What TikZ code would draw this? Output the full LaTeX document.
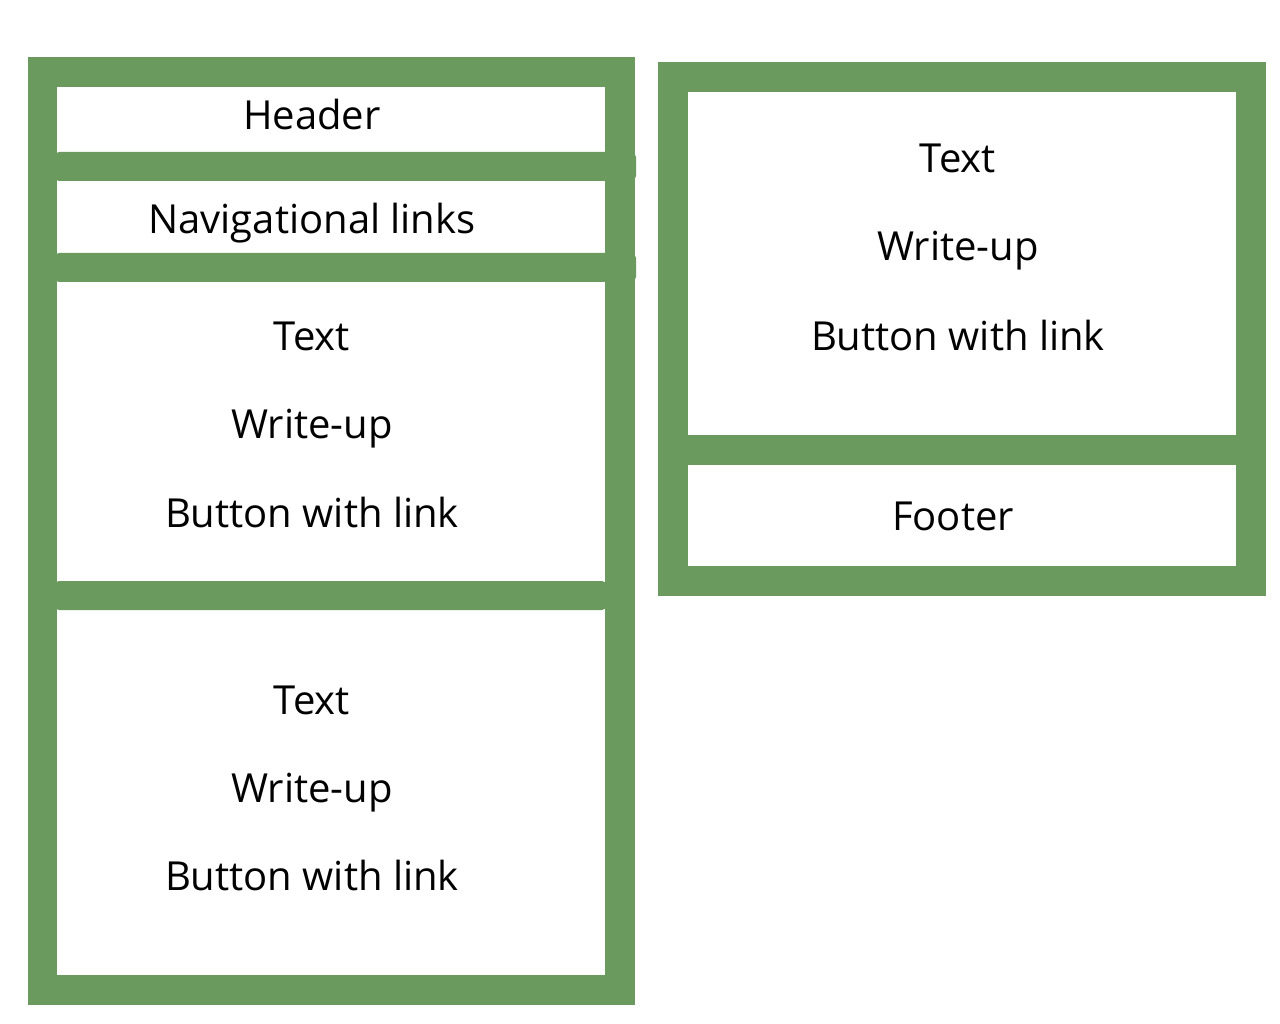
\documentclass[tikz,border=0pt]{standalone}
\usepackage{fontspec}
\setmainfont{Open Sans}
\definecolor{frameg}{RGB}{106,154,94}
\begin{document}
\begin{tikzpicture}[x=1pt,y=-1pt,
  lbl/.style={anchor=base,inner sep=0pt,font=\fontsize{40}{48}\selectfont},
  gfill/.style={fill=frameg},
  bar/.style={fill=frameg,rounded corners=5pt}]
\useasboundingbox[fill=white] (0,0) rectangle (1280,1024);
% left frame
\fill[frameg] (28,57) rectangle (635,1005);
\fill[white] (57,87) rectangle (605,975);
\path[bar] (54,152) rectangle (636,181);
\path[bar] (54,253) rectangle (636,282);
\path[bar] (54,581) rectangle (607,610);
\fill[frameg] (28,150) rectangle (57,612);
\fill[frameg] (605,150) rectangle (635,284);
% right frame
\fill[frameg] (658,62) rectangle (1266,596);
\fill[white] (688,92) rectangle (1236,435);
\fill[white] (688,465) rectangle (1236,566);
% labels
\node[lbl] (header) at (312,130) {Header};
\node[lbl] (nav) at (312,234) {Navigational links};
\node[lbl] (t1) at (312,350) {Text};
\node[lbl] (w1) at (312,438) {Write-up};
\node[lbl] (b1) at (312,527) {Button with link};
\node[lbl] (t2) at (312,714) {Text};
\node[lbl] (w2) at (312,802) {Write-up};
\node[lbl] (b2) at (312,890) {Button with link};
\node[lbl] (t3) at (958,173) {Text};
\node[lbl] (w3) at (958,261) {Write-up};
\node[lbl] (b3) at (958,350) {Button with link};
\node[lbl] (footer) at (953,530) {Footer};
\end{tikzpicture}
\end{document}
